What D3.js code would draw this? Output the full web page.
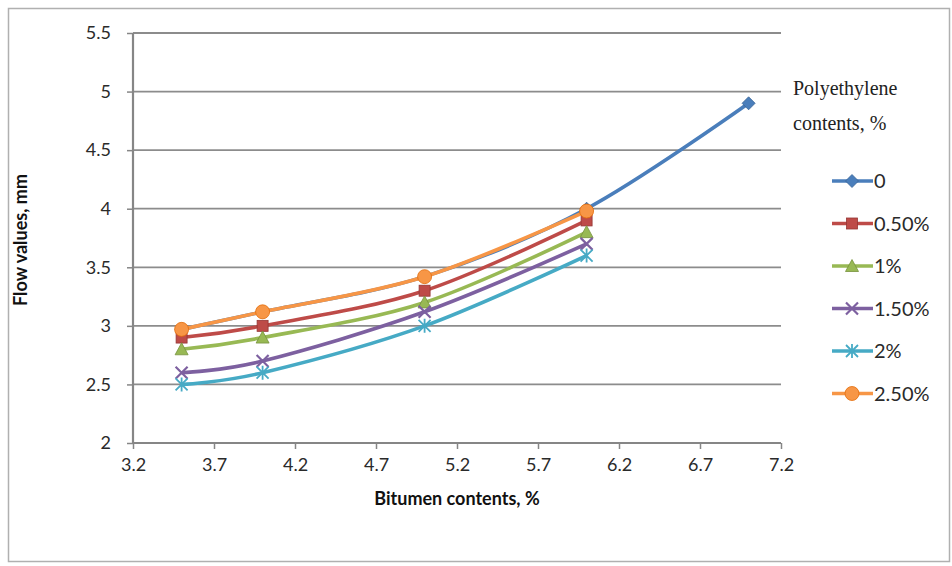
<!DOCTYPE html>
<html><head><meta charset="utf-8">
<script src="https://cdn.jsdelivr.net/npm/d3@7"></script>
<style>body{margin:0;background:#fff}svg{display:block}</style>
</head><body>
<svg id="c" width="952" height="566"></svg>
<script>
const bitumen = [3.5, 4, 5, 6, 7];
const seriesNames = ["0", "0.50%", "1%", "1.50%", "2%", "2.50%"];
const s0   = [2.97, 3.12, 3.42, 4.0, 4.9];
const s050 = [2.9, 3.0, 3.3, 3.9];
const s1   = [2.8, 2.9, 3.2, 3.8];
const s150 = [2.6, 2.7, 3.12, 3.7];
const s2   = [2.5, 2.6, 3.0, 3.6];
const s250 = [2.97, 3.12, 3.42, 3.98];
const xTicks = [3.2, 3.7, 4.2, 4.7, 5.2, 5.7, 6.2, 6.7, 7.2];
const yTicks = [2, 2.5, 3, 3.5, 4, 4.5, 5, 5.5];
const legendTitle = ["Polyethylene", "contents, %"];

const colors = ["#4A7EBB", "#BE4B48", "#98B954", "#7D60A0", "#46AAC5", "#F79646"];
const strokes = ["#3A6496", "#943634", "#76923C", "#5F497A", "#31849B", "#E36C09"];
const shapes = ["diamond", "square", "triangle", "x", "star", "circle"];
const allValues = [s0, s050, s1, s150, s2, s250];

const svg = d3.select("#c");
const x = d3.scaleLinear().domain([3.2, 7.2]).range([133, 781]);
const y = d3.scaleLinear().domain([2, 5.5]).range([443, 33]);

// frame
svg.append("rect").attr("x", 8.5).attr("y", 8.5).attr("width", 941).attr("height", 553)
  .attr("fill", "none").attr("stroke", "#b0b0b0").attr("stroke-width", 1.5);

// gridlines
svg.append("g").selectAll("line").data(yTicks.filter(d => d > 2)).join("line")
  .attr("x1", x(3.2)).attr("x2", x(7.2)).attr("y1", d => y(d)).attr("y2", d => y(d))
  .attr("stroke", "#8c8c8c").attr("stroke-width", 1.8);

// axes
const fontTick = "Lato, 'Open Sans', sans-serif";
const yAxis = d3.axisLeft(y).tickValues(yTicks).tickSize(6).tickPadding(16).tickFormat(d3.format("~g"));
const gy = svg.append("g").attr("transform", `translate(${x(3.2)},0)`).call(yAxis);
const xAxis = d3.axisBottom(x).tickValues(xTicks).tickSize(6).tickPadding(9).tickFormat(d3.format(".1f"));
const gx = svg.append("g").attr("transform", `translate(0,${y(2)})`).call(xAxis);
[gx, gy].forEach(g => {
  g.select(".domain").attr("stroke", "#868686").attr("stroke-width", 2.2);
  g.selectAll(".tick line").attr("stroke", "#868686").attr("stroke-width", 1.5);
  g.selectAll(".tick text").attr("fill", "#2a2a2a").style("font-family", fontTick).style("font-size", "18px");
});
gx.select(".domain").attr("d", `M${x(3.2)},0H${x(7.2)}`);
gy.select(".domain").attr("d", `M0,${y(2)}V${y(5.5)}`);

// axis titles
svg.append("text").attr("x", 457).attr("y", 505).attr("text-anchor", "middle")
  .style("font-family", fontTick).style("font-weight", "bold").style("font-size", "18px").attr("fill", "#111")
  .text("Bitumen contents, %");
svg.append("text").attr("transform", "translate(27,240) rotate(-90)").attr("text-anchor", "middle")
  .style("font-family", fontTick).style("font-weight", "bold").style("font-size", "18px").attr("fill", "#111")
  .text("Flow values, mm");

function marker(g, shape, fill, stroke) {
  const s = 6.5;
  if (shape === "diamond") g.append("path").attr("d", `M0,${-s}L${s},0L0,${s}L${-s},0Z`).attr("fill", fill).attr("stroke", stroke).attr("stroke-width", 0.8);
  else if (shape === "square") g.append("rect").attr("x", -5.5).attr("y", -5.5).attr("width", 11).attr("height", 11).attr("fill", fill).attr("stroke", stroke).attr("stroke-width", 0.8);
  else if (shape === "triangle") g.append("path").attr("d", `M0,-6.5L6.5,5.5L-6.5,5.5Z`).attr("fill", fill).attr("stroke", stroke).attr("stroke-width", 0.8);
  else if (shape === "x") g.append("path").attr("d", `M-6,-6L6,6M-6,6L6,-6`).attr("stroke", fill).attr("stroke-width", 2.2);
  else if (shape === "star") g.append("path").attr("d", `M-6,-6L6,6M-6,6L6,-6M0,-7V7`).attr("stroke", fill).attr("stroke-width", 1.8);
  else if (shape === "circle") g.append("circle").attr("r", 7).attr("fill", fill).attr("stroke", stroke).attr("stroke-width", 0.8);
}

const line = d3.line().x(d => x(d[0])).y(d => y(d[1])).curve(d3.curveCatmullRom.alpha(0));
allValues.forEach((vals, i) => {
  const pts = vals.map((v, j) => [bitumen[j], v]);
  const g = svg.append("g");
  g.append("path").attr("d", line(pts)).attr("fill", "none").attr("stroke", colors[i]).attr("stroke-width", 3.6);
  pts.forEach(p => {
    const m = g.append("g").attr("transform", `translate(${x(p[0])},${y(p[1])})`);
    marker(m, shapes[i], colors[i], strokes[i]);
  });
});

// legend
const lg = svg.append("g");
lg.selectAll("text.t").data(legendTitle).join("text").attr("class", "t")
  .attr("x", 793).attr("y", (d, i) => 95 + i * 35)
  .style("font-family", "'Liberation Serif', 'DejaVu Serif', serif").style("font-size", "20px").attr("fill", "#222")
  .text(d => d);
seriesNames.forEach((name, i) => {
  const yy = 181 + i * 42.5;
  const g = lg.append("g").attr("transform", `translate(0,${yy})`);
  g.append("line").attr("x1", 832).attr("x2", 873).attr("stroke", colors[i]).attr("stroke-width", 3.4);
  const m = g.append("g").attr("transform", "translate(852,0)");
  marker(m, shapes[i], colors[i], strokes[i]);
  g.append("text").attr("x", 874).attr("y", 7).style("font-family", fontTick).style("font-size", "20px").attr("fill", "#2a2a2a").text(name);
});
</script>
</body></html>
